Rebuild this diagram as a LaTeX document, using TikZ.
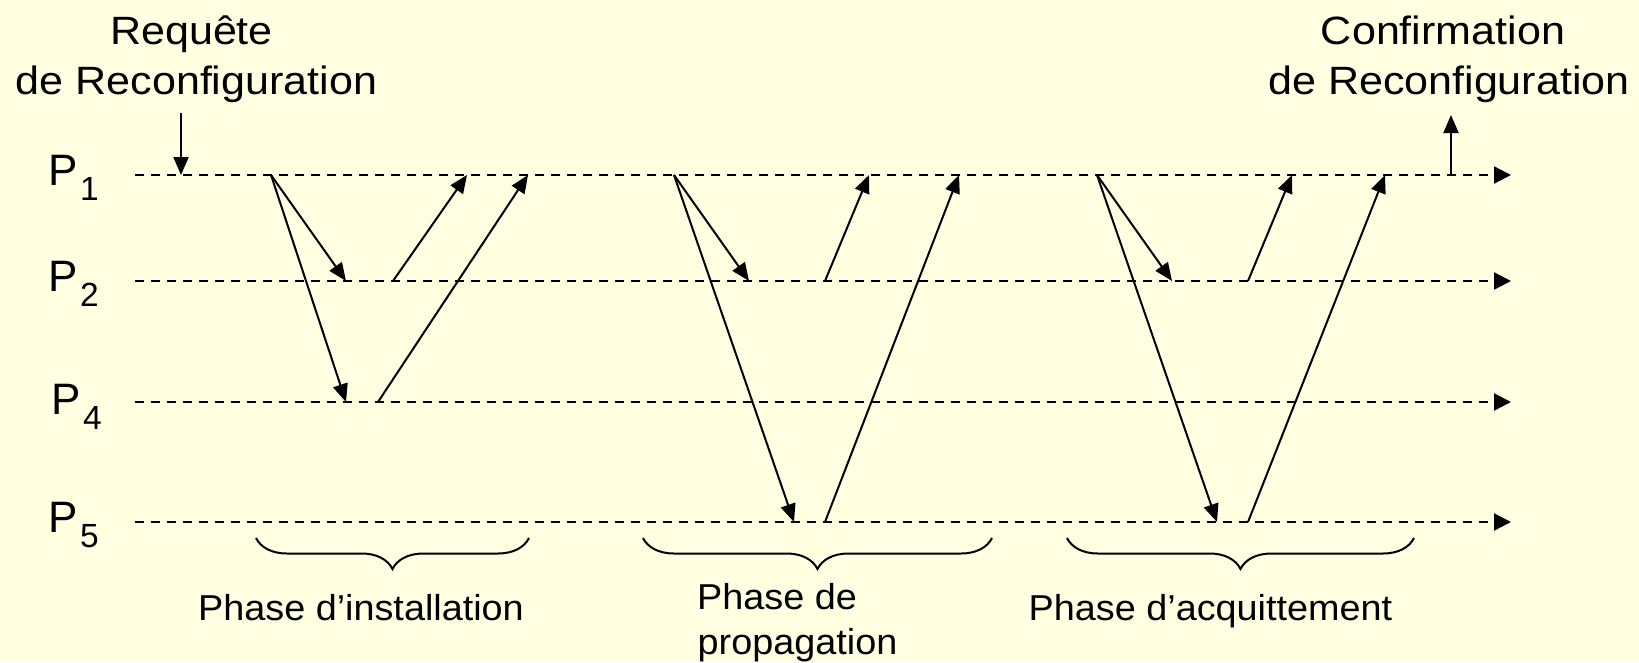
\documentclass[tikz,border=0pt]{standalone}
\usepackage{fontspec}
\setmainfont{Liberation Sans}
\newfontfamily\topfont[FakeStretch=1.09]{Liberation Sans}
\newfontfamily\phfont[FakeStretch=1.05]{Liberation Sans}
\usetikzlibrary{arrows.meta,decorations.pathreplacing}
\definecolor{bg}{RGB}{255,255,225}
\begin{document}
\begin{tikzpicture}[x=1pt,y=-1pt,
  msg/.style={line width=2pt, -{Triangle[length=18pt,width=15pt]}},
  proc/.style={line width=2.2pt, dash pattern=on 9pt off 7pt, -{Triangle[length=17pt,width=17pt]}},
  toplbl/.style={inner sep=0pt, anchor=base, font=\topfont\fontsize{39.5}{47}\selectfont},
  phlbl/.style={inner sep=0pt, font=\phfont\fontsize{36}{45}\selectfont},
  plbl/.style={inner sep=0pt, anchor=base west, font=\fontsize{44}{50}\selectfont},
  brc/.style={line width=2pt, decorate, decoration={brace, amplitude=31pt}}
]
\fill[bg] (0,0) rectangle (1639,662);
\useasboundingbox (0,0) rectangle (1639,662);

% process lines
\coordinate (L1s) at (135,175); \coordinate (L1e) at (1511,175);
\coordinate (L2s) at (135,281); \coordinate (L2e) at (1511,281);
\coordinate (L4s) at (135,402); \coordinate (L4e) at (1511,402);
\coordinate (L5s) at (135,522); \coordinate (L5e) at (1511,522);
\draw[proc] (L1s) -- (L1e);
\draw[proc] (L2s) -- (L2e);
\draw[proc] (L4s) -- (L4e);
\draw[proc] (L5s) -- (L5e);

% process labels
\newcommand{\subdig}[1]{\kern2pt\raisebox{-15pt}{\fontsize{33.5}{40}\selectfont #1}}
\node[plbl] (p1) at (48.5,185) {P\subdig{1}};
\node[plbl] (p2) at (48.5,291) {P\subdig{2}};
\node[plbl] (p4) at (51.5,414) {P\subdig{4}};
\node[plbl] (p5) at (48.5,532) {P\subdig{5}};

% top labels
\node[toplbl] (req1) at (191.5,44.5) {Requête};
\node[toplbl] (req2) at (196.5,94) {de Reconfiguration};
\node[toplbl] (conf1) at (1443,44.5) {Confirmation};
\node[toplbl] (conf2) at (1449,94) {de Reconfiguration};

\coordinate (rqTop) at (181,113); \coordinate (rqEnd) at (181,175);
\draw[msg] (rqTop) -- (rqEnd);
\coordinate (cfBot) at (1451,175); \coordinate (cfTop) at (1451,115);
\draw[msg] (cfBot) -- (cfTop);

% phase 1: installation
\coordinate (a0) at (271,175);
\coordinate (a2) at (346,281);
\coordinate (a4) at (346,402);
\coordinate (b2) at (393,281);
\coordinate (b1) at (467,175);
\coordinate (b4) at (378,402);
\coordinate (c1) at (528,175);
\draw[msg] (a0) -- (a2);
\draw[msg] (a0) -- (a4);
\draw[msg] (b2) -- (b1);
\draw[msg] (b4) -- (c1);

% phase 2: propagation
\coordinate (d0) at (674,175);
\coordinate (d2) at (749,281);
\coordinate (d5) at (794,522);
\coordinate (e2) at (825,281);
\coordinate (e1) at (869,175);
\coordinate (f5) at (825,522);
\coordinate (f1) at (959,175);
\draw[msg] (d0) -- (d2);
\draw[msg] (d0) -- (d5);
\draw[msg] (e2) -- (e1);
\draw[msg] (f5) -- (f1);

% phase 3: acquittement
\coordinate (g0) at (1097,175);
\coordinate (g2) at (1172,281);
\coordinate (g5) at (1217,522);
\coordinate (h2) at (1248,281);
\coordinate (h1) at (1292,175);
\coordinate (i5) at (1248,522);
\coordinate (i1) at (1385,175);
\draw[msg] (g0) -- (g2);
\draw[msg] (g0) -- (g5);
\draw[msg] (h2) -- (h1);
\draw[msg] (i5) -- (i1);

% braces
\coordinate (br1a) at (529,538); \coordinate (br1b) at (256,538);
\coordinate (br2a) at (992,538); \coordinate (br2b) at (643,538);
\coordinate (br3a) at (1414,538); \coordinate (br3b) at (1067,538);
\draw[brc] (br1a) -- (br1b);
\draw[brc] (br2a) -- (br2b);
\draw[brc] (br3a) -- (br3b);

% phase labels
\node[phlbl, anchor=base] (ph1) at (361,620) {Phase d’installation};
\node[phlbl, anchor=base west] (ph2a) at (697,609) {Phase de};
\node[phlbl, anchor=base west] (ph2b) at (697.5,654) {propagation};
\node[phlbl, anchor=base] (ph3) at (1210.5,620) {Phase d’acquittement};
\end{tikzpicture}
\end{document}
